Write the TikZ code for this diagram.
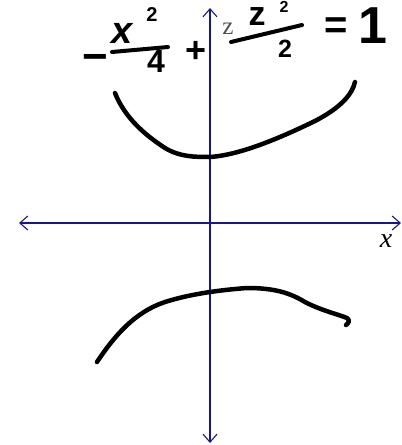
\documentclass[tikz,border=0pt]{standalone}
\usepackage{fontspec}
\setmainfont{Liberation Serif}
\newfontfamily\handfont{Liberation Sans}
\usetikzlibrary{arrows.meta}
\definecolor{axisblue}{RGB}{20,20,160}
\definecolor{lblgray}{RGB}{80,80,80}
\newcommand{\fsz}[1]{\fontsize{#1}{#1}\selectfont}
\begin{document}
\begin{tikzpicture}[x=1pt,y=-1pt,
  axis/.style={axisblue,line width=1.1pt,{Straight Barb[length=8pt,width=14pt]}-{Straight Barb[length=8pt,width=14pt]}},
  ink/.style={black,line width=4.5pt,line cap=round,line join=round},
  hand/.style={inner sep=0pt,font=\handfont\bfseries}]
\useasboundingbox (0,0) rectangle (402,445);
\coordinate (ztop) at (210,8);
\coordinate (zbot) at (210,443);
\coordinate (xleft) at (19,223);
\coordinate (xright) at (401,223);
\draw[axis] (zbot) -- (ztop);
\draw[axis] (xleft) -- (xright);
\node[lblgray,font=\fsz{25}] (zlab) at (228,29) {z};
\node[font=\fsz{28}\itshape] (xlab) at (386,241) {x};
% handwritten equation
\node[hand] (minus) at (95,63) {\fsz{44}−};
\node[hand] (xnum) at (122,33) {\fsz{38}\itshape x};
\node[hand] (xsup) at (152,15) {\fsz{20}2};
\coordinate (bar1a) at (112,52);
\coordinate (bar1b) at (168,47);
\draw[ink,line width=4pt] (bar1a) -- (bar1b);
\node[hand] (four) at (156,61) {\fsz{32}4};
\node[hand] (plus) at (196,52) {\fsz{36}+};
\node[hand] (znum) at (257,17) {\fsz{34}z};
\node[hand] (zsup) at (284,7) {\fsz{16}2};
\coordinate (bar2a) at (231,42);
\coordinate (bar2b) at (302,25);
\draw[ink,line width=4pt] (bar2a) -- (bar2b);
\node[hand] (two) at (285,49) {\fsz{25}2};
\node[hand] (eq) at (336,28) {\fsz{40}=};
\node[hand] (one) at (373,26) {\fsz{52}1};
% curves
\draw[ink] (115,93) .. controls (125,118) and (145,135) .. (165,148)
  .. controls (180,157) and (195,157) .. (210,157)
  .. controls (240,155) and (280,138) .. (315,121)
  .. controls (340,108) and (352,95) .. (355,82);
\draw[ink] (97,362) .. controls (115,335) and (135,312) .. (165,302)
  .. controls (190,294) and (220,290) .. (247,288)
  .. controls (275,288) and (290,293) .. (305,302)
  .. controls (320,310) and (340,315) .. (347,318)
  .. controls (350,320) and (349,323) .. (346,325);
\end{tikzpicture}
\end{document}
